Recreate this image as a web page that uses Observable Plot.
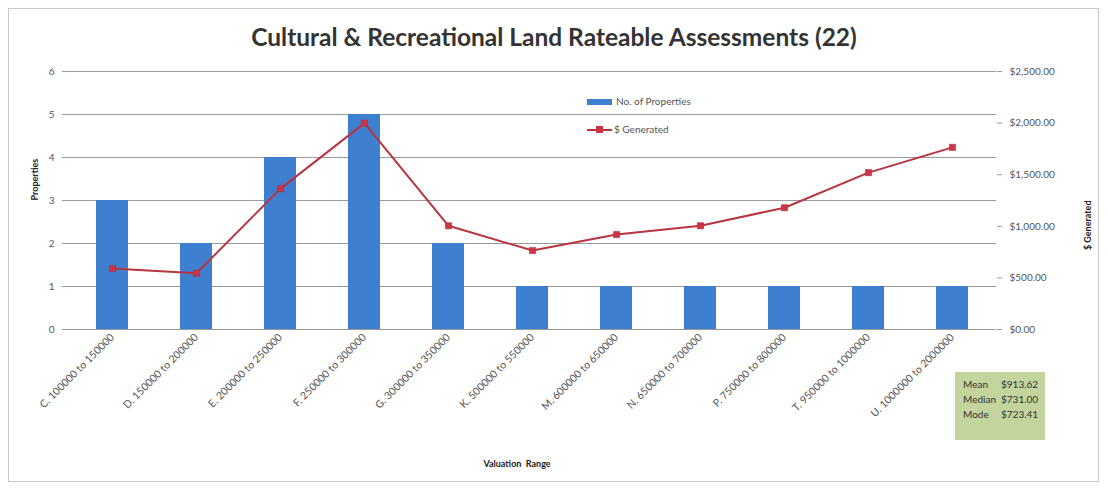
<!DOCTYPE html>
<html><head><meta charset="utf-8">
<script src="https://cdn.jsdelivr.net/npm/d3@7"></script>
<script src="https://cdn.jsdelivr.net/npm/@observablehq/plot@0.6"></script>
<style>
body{margin:0;background:#fff;font-family:Lato,"Open Sans",sans-serif;}
#wrap{position:relative;width:1108px;height:493px;overflow:hidden;}
#frame{position:absolute;left:8px;top:8px;width:1091px;height:474px;border:1px solid #c8c8c8;box-sizing:border-box;}
#title{position:absolute;left:0;top:22px;width:1108px;text-align:center;font-weight:bold;font-size:24.5px;color:#333;height:33px;}
#chart{position:absolute;left:0;top:55px;}
.leg{position:absolute;font-size:10px;color:#555;}
#stats{position:absolute;left:955px;top:372px;width:90px;height:68px;background:#c3d49c;font-size:10px;color:#333;box-sizing:border-box;padding:5px 0 0 8px;line-height:15px;}
#stats span{display:inline-block;width:38px;}
</style></head>
<body>
<div id="wrap">
<div id="frame"></div>
<div id="title">Cultural &amp; Recreational Land Rateable Assessments (22)</div>
<div id="chart"></div>
<div class="leg" style="left:587px;top:95px;"><span style="display:inline-block;width:25px;height:6px;background:#3f7fcf;vertical-align:middle;margin-right:4px;"></span>No. of Properties</div>
<div class="leg" style="left:587px;top:123px;"><span style="display:inline-block;position:relative;width:25px;height:10px;vertical-align:middle;margin-right:2px;"><span style="position:absolute;left:0;top:4px;width:25px;height:2px;background:#b8343f;"></span><span style="position:absolute;left:9px;top:1px;width:7px;height:7px;background:#cc3344;"></span></span>$ Generated</div>
<div id="stats"><div><span>Mean</span>$913.62</div><div><span>Median</span>$731.00</div><div><span>Mode</span>$723.41</div></div>
</div>
<script>
const categories = ["C. 100000 to 150000","D. 150000 to 200000","E. 200000 to 250000","F. 250000 to 300000","G. 300000 to 350000","K. 500000 to 550000","M. 600000 to 650000","N. 650000 to 700000","P. 750000 to 800000","T. 950000 to 1000000","U. 1000000 to 2000000"];
const properties = [3,2,4,5,2,1,1,1,1,1,1];
const generated = [590,545,1365,2000,1005,765,920,1005,1180,1520,1765];
const leftTicks = [0,1,2,3,4,5,6];
const rightTicks = [0,500,1000,1500,2000,2500];

const maxLeft = 6, maxRight = 2500;
const toLeft = v => v * maxLeft / maxRight;
const data = categories.map((c,i)=>({cat:c, n:properties[i], g:generated[i], gy:toLeft(generated[i])}));
const fmt$ = d3.format("$,.2f");

const plot = Plot.plot({
  width:1108, height:438,
  marginTop:16, marginBottom:164, marginLeft:67, marginRight:112,
  style:{fontFamily:"Lato, 'Open Sans', sans-serif", fontSize:"10px", color:"#555", background:"transparent"},
  x:{domain:categories, paddingInner:0.62, paddingOuter:0.32, label:null},
  y:{domain:[0,maxLeft], label:null},
  marks:[
    Plot.gridY(leftTicks, {stroke:"#9a9a9a", strokeOpacity:1, strokeWidth:1}),
    Plot.barY(data, {x:"cat", y:"n", fill:"#3f7fcf"}),
    Plot.line(data, {x:"cat", y:"gy", stroke:"#b8343f", strokeWidth:2}),
    Plot.dot(data, {x:"cat", y:"gy", symbol:"square", r:3.5, fill:"#cc3344", stroke:"#a02c3a", strokeWidth:0.5}),
    Plot.axisY(leftTicks, {anchor:"left", tickSize:5, tickPadding:8, fill:"#555", stroke:"#999", label:null}),
    Plot.ruleX([0], {frameAnchor:"left", stroke:"#999"}),
    Plot.axisY(rightTicks.map(toLeft), {anchor:"right", tickSize:5, tickPadding:8, fill:"#555", stroke:"#999", tickFormat:d=>fmt$(d*maxRight/maxLeft), label:null}),
    Plot.ruleY([0], {stroke:"#999"}),
    Plot.axisX({tickSize:0, tickPadding:6, tickRotate:-45, fill:"#555", fontSize:10.5, label:null}),
    Plot.text(["Properties"], {frameAnchor:"left", dx:-32, rotate:-90, fontWeight:"bold", fontSize:9, fill:"#222"}),
    Plot.text(["$ Generated"], {frameAnchor:"right", dx:92, rotate:-90, fontWeight:"bold", fontSize:9, fill:"#222"}),
    Plot.text(["Valuation  Range"], {frameAnchor:"bottom", dy:137, dx:-15, fontWeight:"bold", fontSize:9, fill:"#222"})
  ]
});
document.getElementById("chart").appendChild(plot);
</script>
</body></html>
